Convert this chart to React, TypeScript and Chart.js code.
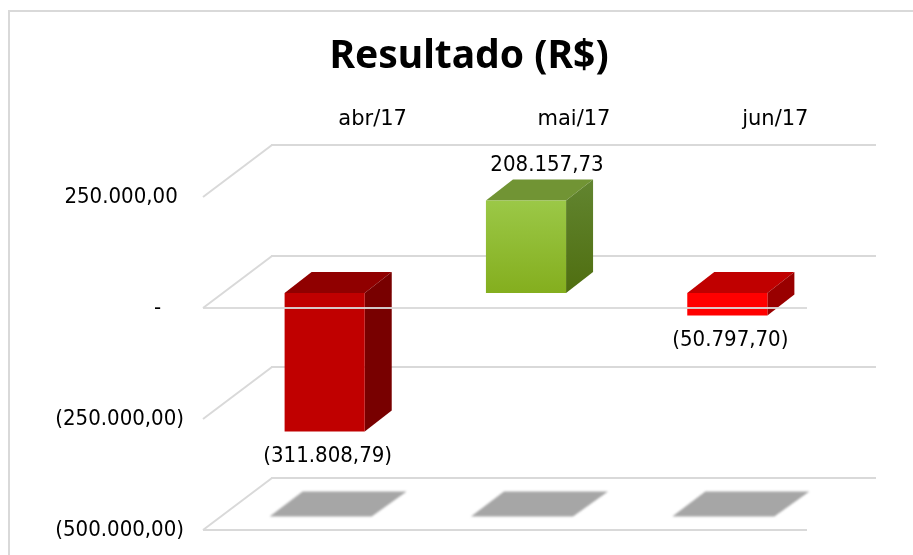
import React, { useEffect, useRef } from "react";
import { Chart, registerables } from "chart.js";

Chart.register(...registerables);

const categories = ["abr/17", "mai/17", "jun/17"];
const resultado = [-311808.79, 208157.73, -50797.7];
const TITLE = "Resultado (R$)";
const yTickLabels: Record<string, string> = {
  "250000": "250.000,00\u00a0",
  "0": "-\u2007\u00a0\u2009",
  "-250000": "(250.000,00)",
  "-500000": "(500.000,00)",
};

const FONT = '"DejaVu Sans Condensed", "DejaVu Sans", sans-serif';
const FONT_WIDE = '"DejaVu Sans", sans-serif';
const FONT_TITLE = '"Noto Sans", "DejaVu Sans", sans-serif';
const GRID = "#d9d9d9";
const BACK_DX = 69;
const BACK_DY = -52;
const BAR_SHIFT_X = 21;
const BAR_SHIFT_Y = -15;
const DEPTH_X = 27;
const DEPTH_Y = -21;

const facesFor = (v: number) =>
  v >= 0
    ? { top: "#719434", sideA: "#628530", sideB: "#4f6e10" }
    : v < -100000
    ? { top: "#900000", sideA: "#780000", sideB: "#780000" }
    : { top: "#c00000", sideA: "#990000", sideB: "#990000" };

const fmt = (v: number) => {
  const [i, d] = Math.abs(v).toFixed(2).split(".");
  const s = i.replace(/\B(?=(\d{3})+$)/g, ".") + "," + d;
  return v < 0 ? `(${s})` : s;
};

const line = (c: CanvasRenderingContext2D, x0: number, y0: number, x1: number, y1: number) => {
  c.beginPath();
  c.moveTo(x0, y0);
  c.lineTo(x1, y1);
  c.stroke();
};

const poly = (c: CanvasRenderingContext2D, pts: number[][], fill: any) => {
  c.fillStyle = fill;
  c.beginPath();
  pts.forEach(([x, y], i) => (i ? c.lineTo(x, y) : c.moveTo(x, y)));
  c.closePath();
  c.fill();
};

const plugin3d = {
  id: "plugin3d",
  afterLayout(chart: any) {
    chart.titleBlock.left = 25;
    chart.titleBlock.right = 913;
  },
  beforeDraw(chart: any) {
    const c = chart.ctx;
    c.save();
    c.strokeStyle = GRID;
    c.lineWidth = 2;
    line(c, 9, 555, 9, 11);
    line(c, 8, 11, 913, 11);
    c.restore();
  },
  beforeDatasetsDraw(chart: any) {
    const c = chart.ctx;
    const { left, right } = chart.chartArea;
    const y = chart.scales.y;
    c.save();
    c.strokeStyle = GRID;
    c.lineWidth = 2;
    y.ticks.forEach((t: any) => {
      const p = y.getPixelForValue(t.value);
      line(c, left, p, left + BACK_DX, p + BACK_DY);
      line(c, left + BACK_DX - 1, p + BACK_DY, right + BACK_DX, p + BACK_DY);
      if (t.value === y.min) line(c, left, p, right, p);
    });
    // floor shadows
    const floor = y.getPixelForValue(y.min);
    const meta = chart.getDatasetMeta(0);
    c.filter = "blur(1.2px)";
    meta.data.forEach((b: any) => {
      const x = b.x;
      poly(
        c,
        [
          [x - 34, floor - 13.5],
          [x + 68, floor - 13.5],
          [x + 103, floor - 38.5],
          [x - 1, floor - 38.5],
        ],
        "#a6a6a6"
      );
    });
    c.restore();
  },
  beforeDatasetDraw(chart: any, args: any) {
    const c = chart.ctx;
    c.save();
    c.translate(BAR_SHIFT_X, BAR_SHIFT_Y);
    args.meta.data.forEach((b: any, i: number) => {
      const v = resultado[i];
      const f = facesFor(v);
      const l = b.x - b.width / 2;
      const r = b.x + b.width / 2;
      const t = Math.min(b.y, b.base);
      const bot = Math.max(b.y, b.base);
      poly(c, [[l, t], [r, t], [r + DEPTH_X, t + DEPTH_Y], [l + DEPTH_X, t + DEPTH_Y]], f.top);
      const g = c.createLinearGradient(0, t + DEPTH_Y, 0, bot);
      g.addColorStop(0, f.sideA);
      g.addColorStop(1, f.sideB);
      poly(c, [[r, t], [r + DEPTH_X, t + DEPTH_Y], [r + DEPTH_X, bot + DEPTH_Y], [r, bot]], g);
    });
  },
  afterDatasetDraw(chart: any) {
    chart.ctx.restore();
  },
  afterDatasetsDraw(chart: any) {
    const c = chart.ctx;
    const { left, right } = chart.chartArea;
    const y = chart.scales.y;
    const p = y.getPixelForValue(0);
    c.save();
    c.strokeStyle = "rgba(217,217,217,0.92)";
    c.lineWidth = 2;
    line(c, left, p, right, p);
    c.fillStyle = "#000";
    c.font = `22px ${FONT}`;
    c.textAlign = "center";
    c.textBaseline = "middle";
    chart.getDatasetMeta(0).data.forEach((b: any, i: number) => {
      const v = resultado[i];
      const ly = v >= 0 ? b.y + BAR_SHIFT_Y - 35 : b.y + BAR_SHIFT_Y + 24.5;
      const lx = v >= 0 ? b.x + BAR_SHIFT_X + 21 : b.x + BAR_SHIFT_X + 3;
      c.fillText(fmt(v), lx, ly);
    });
    c.restore();
  },
};

export default function App() {
  const ref = useRef<HTMLCanvasElement>(null);
  useEffect(() => {
    const chart = new Chart(ref.current!, {
      type: "bar",
      data: {
        labels: categories,
        datasets: [
          {
            label: "Resultado (R$)",
            data: resultado,
            barPercentage: 0.398,
            categoryPercentage: 1,
            borderWidth: 0,
            clip: false as any,
            backgroundColor: (ctx: any) => {
              const v = ctx.raw;
              if (v === undefined) return "#c00000";
              if (v >= 0) {
                const y = ctx.chart.scales.y;
                const g = ctx.chart.ctx.createLinearGradient(0, y.getPixelForValue(v), 0, y.getPixelForValue(0));
                g.addColorStop(0, "#9bc847");
                g.addColorStop(1, "#84ae1e");
                return g;
              }
              return v < -100000 ? "#c00000" : "#ff0000";
            },
          },
        ],
      },
      options: {
        responsive: false,
        animation: false,
        layout: { padding: { left: 0, right: 106, top: 0, bottom: 25 } },
        plugins: {
          legend: { display: false },
          tooltip: { enabled: false },
          title: {
            display: true,
            text: TITLE,
            color: "#000",
            font: { family: FONT_TITLE, size: 39, weight: "bold", lineHeight: 1.2 },
            padding: { top: 33, bottom: 0 },
          },
        },
        scales: {
          x: {
            position: "top",
            grid: { display: false, drawTicks: false },
            border: { display: false },
            afterFit: (s: any) => {
              s.height = 117.2;
              s.paddingLeft = 0;
              s.paddingRight = 0;
            },
            ticks: {
              color: "#000",
              font: { family: FONT_WIDE, size: 21 },
              labelOffset: BACK_DX,
              padding: 65,
              maxRotation: 0,
              autoSkip: false,
            },
          },
          y: {
            min: -500000,
            max: 250000,
            grid: { display: false, drawTicks: false },
            border: { display: false },
            afterFit: (s: any) => {
              s.width = 203;
              s.paddingTop = 0;
              s.paddingBottom = 0;
            },
            ticks: {
              stepSize: 250000,
              color: "#000",
              padding: 19,
              font: { family: FONT, size: 22 },
              callback: (v: any) => yTickLabels[String(v)] ?? String(v),
            },
          },
        },
      },
      plugins: [plugin3d],
    } as any);
    return () => chart.destroy();
  }, []);
  return (
    <div style={{ position: "fixed", left: 0, top: 0, width: 913, height: 555, background: "#fff" }}>
      <canvas ref={ref} width={913} height={555} style={{ display: "block" }} />
    </div>
  );
}
